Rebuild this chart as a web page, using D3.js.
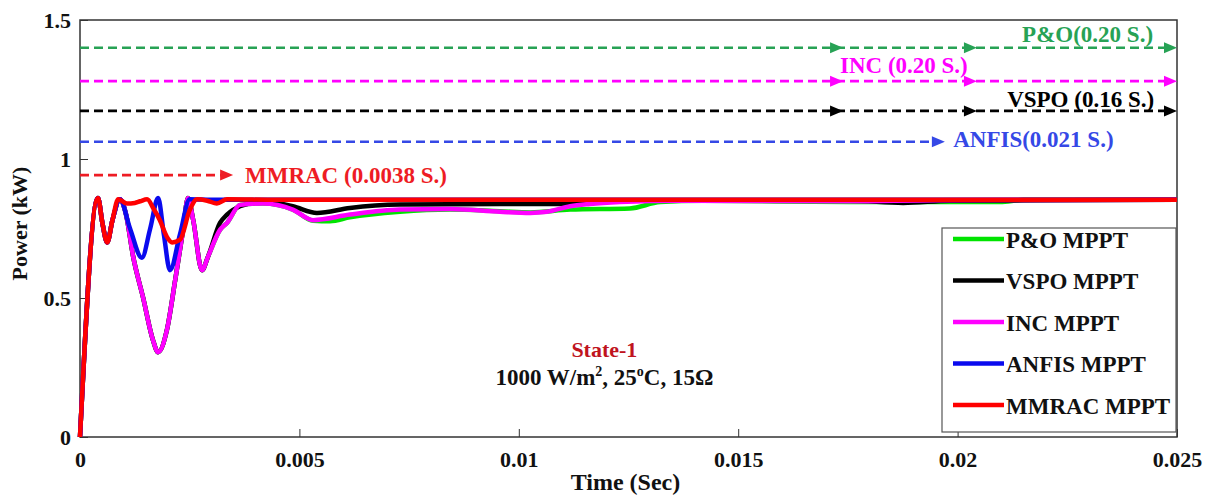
<!DOCTYPE html>
<html>
<head>
<meta charset="utf-8">
<script src="https://cdn.jsdelivr.net/npm/d3@7"></script>
<style>
  body { margin: 0; background: #fff; }
  svg text { font-family: "Liberation Serif", "Times New Roman", serif; font-weight: bold; }
</style>
</head>
<body>
<svg id="chart" width="1210" height="502"></svg>
<script>
// series: [time (s), power (kW)]
const poData = [
  [0,0],[0.00041,0.86],[0.00051,0.77],[0.00062,0.70],[0.00074,0.78],[0.00091,0.855],[0.00105,0.80],
  [0.00121,0.65],[0.00144,0.50],[0.00166,0.35],[0.00178,0.305],[0.00198,0.385],[0.00217,0.565],
  [0.00235,0.745],[0.00246,0.86],[0.00258,0.78],[0.00278,0.60],[0.00292,0.65],[0.00319,0.745],
  [0.00335,0.77],[0.00365,0.835],[0.00417,0.84],[0.00485,0.818],[0.00531,0.778],[0.0057,0.776],
  [0.00615,0.79],[0.00729,0.81],[0.00843,0.818],[0.00957,0.812],[0.01026,0.808],[0.01117,0.818],
  [0.01253,0.822],[0.01322,0.845],[0.0142,0.85],[0.01755,0.845],[0.02097,0.845],[0.0215,0.853],[0.025,0.853]
];
const vspoData = [
  [0,0],[0.00041,0.86],[0.00051,0.77],[0.00062,0.70],[0.00074,0.78],[0.00091,0.855],[0.00105,0.80],
  [0.00121,0.65],[0.00144,0.50],[0.00166,0.35],[0.00178,0.305],[0.00198,0.385],[0.00217,0.565],
  [0.00235,0.745],[0.00246,0.86],[0.00258,0.78],[0.00278,0.60],[0.00292,0.65],[0.00319,0.77],
  [0.00335,0.80],[0.00365,0.83],[0.00417,0.845],[0.00485,0.83],[0.0054,0.806],[0.00615,0.824],
  [0.00729,0.836],[0.00957,0.838],[0.01117,0.838],[0.0114,0.85],[0.01755,0.85],[0.01876,0.842],
  [0.01983,0.85],[0.025,0.853]
];
const incData = [
  [0,0],[0.00041,0.86],[0.00051,0.77],[0.00062,0.70],[0.00074,0.78],[0.00091,0.855],[0.00105,0.80],
  [0.00121,0.65],[0.00144,0.50],[0.00166,0.35],[0.00178,0.305],[0.00198,0.385],[0.00217,0.565],
  [0.00235,0.745],[0.00246,0.86],[0.00258,0.78],[0.00278,0.60],[0.00292,0.65],[0.00319,0.745],
  [0.00335,0.77],[0.00365,0.835],[0.00417,0.84],[0.00485,0.818],[0.00531,0.78],[0.00615,0.80],
  [0.00729,0.818],[0.00843,0.82],[0.00957,0.81],[0.01026,0.806],[0.01064,0.81],[0.01117,0.83],
  [0.01162,0.838],[0.0123,0.845],[0.01367,0.85],[0.01755,0.848],[0.0195,0.852],[0.025,0.853]
];
const anfisData = [
  [0,0],[0.00041,0.86],[0.00051,0.77],[0.00062,0.70],[0.00074,0.78],[0.00091,0.855],[0.00114,0.75],
  [0.00141,0.645],[0.0016,0.75],[0.00178,0.86],[0.00191,0.73],[0.00205,0.60],[0.00228,0.73],
  [0.0025,0.855],[0.003,0.853],[0.025,0.853]
];
const mmracData = [
  [0,0],[0.00041,0.86],[0.00051,0.77],[0.00062,0.70],[0.00074,0.78],[0.00087,0.855],[0.00107,0.84],
  [0.00125,0.842],[0.00137,0.848],[0.00153,0.855],[0.00168,0.82],[0.00182,0.78],[0.00198,0.72],
  [0.0021,0.70],[0.00228,0.71],[0.0025,0.816],[0.00267,0.855],[0.0029,0.85],[0.00312,0.84],
  [0.00335,0.855],[0.0045,0.853],[0.025,0.853]
];

const seriesNames = ['P&O MPPT', 'VSPO MPPT', 'INC MPPT', 'ANFIS MPPT', 'MMRAC MPPT'];
const seriesValues = [poData, vspoData, incData, anfisData, mmracData];
const seriesColors = ['#00e400', '#000000', '#ff00ff', '#0a0aee', '#ff0000'];

// tracking-time annotations (dashed arrows)
const annLabels = ['P&O(0.20 S.)', 'INC (0.20 S.)', 'VSPO (0.16 S.)', 'ANFIS(0.021 S.)', 'MMRAC (0.0038 S.)'];
const annLevel = [1.40, 1.28, 1.173, 1.062, 0.942];
const annEnd = [0.025, 0.025, 0.025, 0.01971, 0.00349];
const annMidArrows = [[0.01739, 0.02044], [0.01739, 0.02044], [0.01739, 0.02044], [], []];
const annColors = ['#27a255', '#ff00ff', '#000000', '#3548e6', '#ee1c24'];
const annTextAt = [[0.02147, 1.421], [0.01732, 1.309], [0.02113, 1.187], [0.0199, 1.043], [0.00376, 0.914]];

const xTicks = [0, 0.005, 0.01, 0.015, 0.02, 0.025];
const yTicks = [0, 0.5, 1, 1.5];

const svg = d3.select('#chart');
const width = 1210, height = 502;
const padLeft = 80, padRight = 33, padTop = 20, padBottom = 65;
const innerWidth = width - padLeft - padRight;
const innerHeight = height - padTop - padBottom;

const x = d3.scaleLinear().domain([0, 0.025]).range([0, innerWidth]);
const y = d3.scaleLinear().domain([0, 1.5]).range([innerHeight, 0]);

const g = svg.append('g').attr('transform', `translate(${padLeft},${padTop})`);

// plot box
g.append('rect')
  .attr('width', innerWidth).attr('height', innerHeight)
  .attr('fill', 'none').attr('stroke', '#333').attr('stroke-width', 1.5);

// bottom axis, ticks inside
const xAxis = g.append('g')
  .attr('transform', `translate(0,${innerHeight})`)
  .call(d3.axisBottom(x).tickValues(xTicks).tickSize(-8).tickPadding(14)
    .tickFormat(d => String(+d.toFixed(3))));
xAxis.select('.domain').remove();
xAxis.selectAll('line').attr('stroke', '#333');
xAxis.selectAll('text').style('font-size', '22px').attr('fill', '#111');

// left axis, ticks inside
const yAxis = g.append('g')
  .call(d3.axisLeft(y).tickValues(yTicks).tickSize(-8).tickPadding(9)
    .tickFormat(d => String(d)));
yAxis.select('.domain').remove();
yAxis.selectAll('line').attr('stroke', '#333');
yAxis.selectAll('text').style('font-size', '22px').attr('fill', '#111');

// axis titles
svg.append('text')
  .attr('x', padLeft + innerWidth / 2 - 3).attr('y', 490)
  .attr('text-anchor', 'middle').style('font-size', '24px').attr('fill', '#111')
  .text('Time (Sec)');
svg.append('text')
  .attr('transform', `translate(27,${padTop + innerHeight / 2 - 5}) rotate(-90)`)
  .attr('text-anchor', 'middle').style('font-size', '22px').attr('fill', '#111')
  .text('Power (kW)');

// dashed annotation arrows
const arrowHead = tx => `M${tx},0 L${tx - 13},-5.5 L${tx - 13},5.5 Z`;
const ann = g.append('g');
annLevel.forEach((lvl, i) => {
  const yy = y(lvl);
  ann.append('line')
    .attr('x1', x(0)).attr('x2', x(annEnd[i]) - 6)
    .attr('y1', yy).attr('y2', yy)
    .attr('stroke', annColors[i]).attr('stroke-width', 2.6)
    .attr('stroke-dasharray', '9,5');
  annMidArrows[i].concat([annEnd[i]]).forEach(t => {
    ann.append('path')
      .attr('d', arrowHead(x(t)))
      .attr('transform', `translate(0,${yy})`)
      .attr('fill', annColors[i]);
  });
  ann.append('text')
    .attr('x', x(annTextAt[i][0])).attr('y', y(annTextAt[i][1]))
    .attr('fill', annColors[i]).style('font-size', '23px')
    .text(annLabels[i]);
});

// data lines
const line = d3.line()
  .x(d => x(d[0]))
  .y(d => y(d[1]))
  .curve(d3.curveMonotoneX);

g.append('g').selectAll('path')
  .data(seriesValues)
  .join('path')
  .attr('d', line)
  .attr('fill', 'none')
  .attr('stroke', (d, i) => seriesColors[i])
  .attr('stroke-width', 4.5)
  .attr('stroke-linejoin', 'round');

// state text
const st = g.append('g').attr('transform', `translate(${x(0.01195)},0)`);
st.append('text')
  .attr('y', y(0.287)).attr('text-anchor', 'middle')
  .attr('fill', '#c0141e').style('font-size', '22px')
  .text('State-1');
const cond = st.append('text')
  .attr('y', y(0.187)).attr('text-anchor', 'middle')
  .attr('fill', '#111').style('font-size', '23px');
cond.append('tspan').text('1000 W/m');
cond.append('tspan').attr('dy', -9).style('font-size', '14px').text('2');
cond.append('tspan').attr('dy', 9).text(', 25');
cond.append('tspan').attr('dy', -9).style('font-size', '14px').text('o');
cond.append('tspan').attr('dy', 9).text('C, 15\u03A9');

// legend
const lg = svg.append('g').attr('transform', 'translate(942,228)');
lg.append('rect')
  .attr('width', 234).attr('height', 204)
  .attr('fill', '#fff').attr('stroke', '#555').attr('stroke-width', 1.2);
const items = lg.selectAll('.item')
  .data(seriesNames)
  .join('g')
  .attr('class', 'item')
  .attr('transform', (d, i) => `translate(0,${11 + i * 41.5})`);
items.append('line')
  .attr('x1', 11).attr('x2', 62)
  .attr('stroke', (d, i) => seriesColors[i]).attr('stroke-width', 4.5);
items.append('text')
  .attr('x', 64).attr('y', 8.5)
  .attr('fill', '#111').style('font-size', '23px')
  .text(d => d);
</script>
</body>
</html>
